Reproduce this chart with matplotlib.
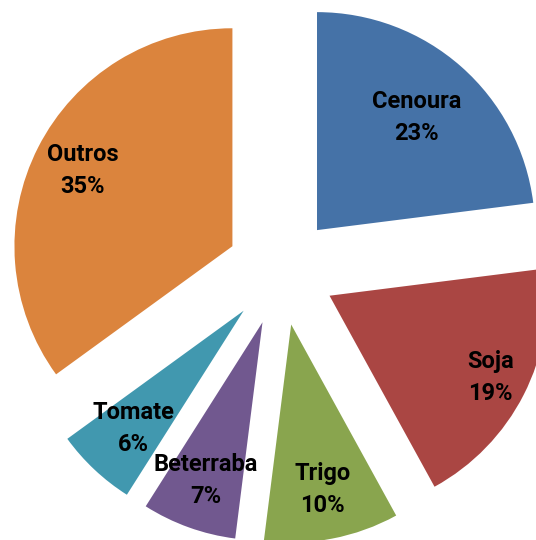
import numpy as np
import matplotlib.pyplot as plt

# Share of each crop
labels = ['Cenoura', 'Soja', 'Trigo', 'Beterraba', 'Tomate', 'Outros']
values = [23, 19, 10, 7, 6, 35]
colors = ['#4572A7', '#AA4643', '#89A54E', '#71588F', '#4198AF', '#DB843D']
# distance of each label from the wedge tip (fraction of radius)
label_dist = [0.69, 0.83, 0.77, 0.77, 0.74, 0.77]

explode_frac = 0.25

fig = plt.figure(figsize=(5.36, 5.40), dpi=100)
ax = fig.add_axes([0, 0, 1, 1])
wedges, _ = ax.pie(values, colors=colors, startangle=90, counterclock=False,
                   explode=[explode_frac] * len(values), radius=1.0)

for w, name, v, d in zip(wedges, labels, values, label_dist):
    mid = np.deg2rad((w.theta1 + w.theta2) / 2)
    cx, cy = w.center
    x = cx + d * np.cos(mid)
    y = cy + d * np.sin(mid)
    ax.text(x, y, f'{name}\n{v}%', ha='center', va='center',
            fontsize=17, fontweight='bold', linespacing=1.5,
            family=['Roboto', 'Liberation Sans', 'DejaVu Sans'])

ax.set_xlim(-1.289, 1.170)
ax.set_ylim(-1.234, 1.243)
ax.axis('off')
fig.savefig('out.png', dpi=100)
